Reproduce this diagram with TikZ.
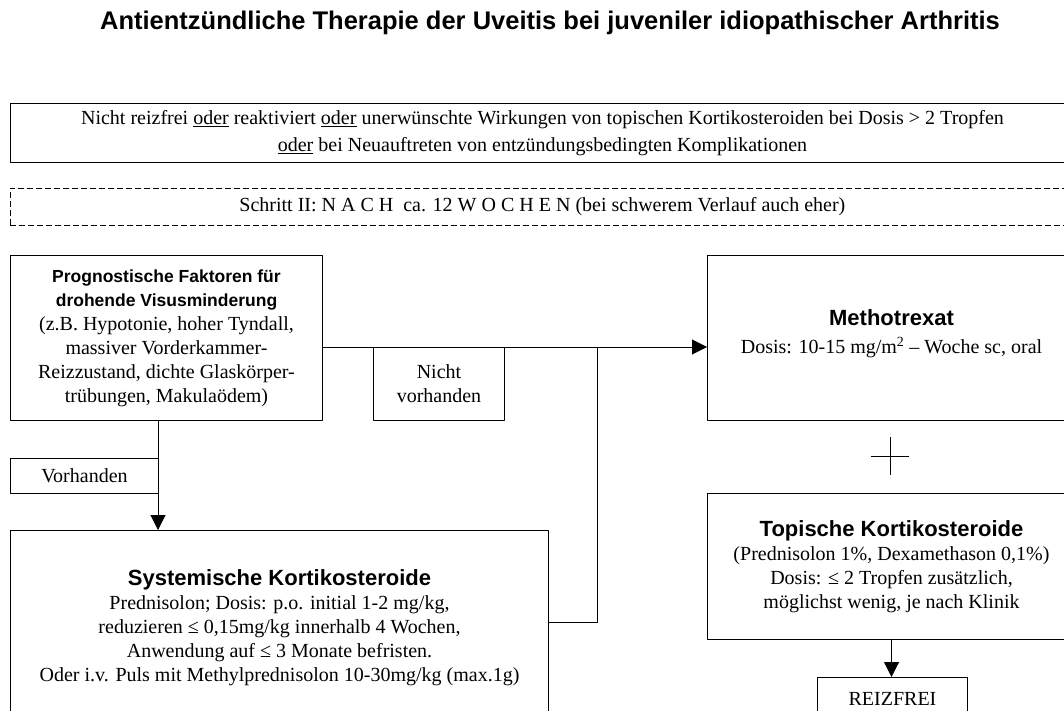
\documentclass[tikz,border=0pt]{standalone}
\usepackage{fontspec}
\setmainfont{Liberation Serif}
\newfontfamily\headfont{Liberation Sans}
\usetikzlibrary{arrows.meta}
\newcommand\hd[2][22]{{\headfont\bfseries\fontsize{#1}{24}\selectfont #2}}

\begin{document}
\begin{tikzpicture}[x=1pt,y=-1pt,line join=round,
 >={Triangle[length=15pt,width=15pt]},
 font=\fontsize{20}{24}\selectfont,
 box/.style={draw,line width=1pt,anchor=north west,align=center,inner sep=0pt},
 ]
 \useasboundingbox (0,0) rectangle (1064,711);
 \clip (0,0) rectangle (1064,711);
 % title
 \node (title) at (550,23) {\hd[25.5]{Antientzündliche Therapie der Uveitis bei juveniler idiopathischer Arthritis}};
 % step II
 \node[box,minimum width=1064,minimum height=59,font=\fontsize{20}{27}\selectfont] (cond) at (10,103)
 {Nicht reizfrei \underline{oder} reaktiviert \underline{oder} unerwünschte Wirkungen von topischen Kortikosteroiden bei Dosis > 2 Tropfen\\
 \underline{oder} bei Neuauftreten von entzündungsbedingten Komplikationen};
 \node[box,line width=.8pt,dash pattern=on 6pt off 3pt,minimum width=1064,minimum height=37] (step2) at (10,188)
 {Schritt II: N A C H \ ca. 12 W O C H E N (bei schwerem Verlauf auch eher)};
 % left column
 \node[box,minimum width=312,minimum height=165] (prog) at (10,255)
 {\hd[17.5]{Prognostische Faktoren für}\\ \hd[17.5]{drohende Visusminderung}\\
 (z.B. Hypotonie, hoher Tyndall,\\ massiver Vorderkammer-\\ Reizzustand, dichte Glaskörper-\\ trübungen, Makulaödem)};
 \node[box,minimum width=131,minimum height=73] (nicht) at (373,347) {Nicht\\ vorhanden};
 \node[box,minimum width=148,minimum height=35] (vorh) at (10,458) {Vorhanden};
 \node[box,minimum width=538,minimum height=194] (syst) at (10,530)
 {\hd{Systemische Kortikosteroide}\\
 Prednisolon; Dosis: p.o. initial 1-2 mg/kg,\\
 reduzieren ≤ 0,15mg/kg innerhalb 4 Wochen,\\
 Anwendung auf ≤ 3 Monate befristen.\\
 Oder i.v. Puls mit Methylprednisolon 10-30mg/kg (max.1g)};
 % right column
 \node[box,minimum width=368,minimum height=165] (mtx) at (707,255)
 {\hd{Methotrexat}\\[4pt] Dosis: 10-15 mg/m\textsuperscript{2} – Woche sc, oral\\[-12pt]\mbox{}};
 \node[box,minimum width=368,minimum height=146] (topk) at (707,493)
 {\hd{Topische Kortikosteroide}\\
 (Prednisolon 1\%, Dexamethason 0,1\%)\\
 Dosis: ≤ 2 Tropfen zusätzlich,\\
 möglichst wenig, je nach Klinik};
 \node[box,minimum width=150,minimum height=42] (reiz) at (817,677) {REIZFREI};
 % connectors
 \coordinate (jn) at (597,347);
 \coordinate (sj) at (597,622);
 \coordinate (lk) at (158,420);
 \coordinate (plus) at (890,456);
 \draw[line width=1pt,->] (prog.east |- jn) -- (mtx.west |- jn);
 \draw[line width=1pt] (syst.east |- sj) -- (sj) -- (jn);
 \draw[line width=1pt,->] (prog.south -| lk) -- (syst.north -| lk);
 \draw[line width=1pt,->] (topk.south) -- (topk.south |- reiz.north);
 \draw[line width=.8pt] ([xshift=-19pt]plus) -- ([xshift=19pt]plus)
 ([yshift=-19pt]plus) -- ([yshift=19pt]plus);
\end{tikzpicture}
\end{document}
